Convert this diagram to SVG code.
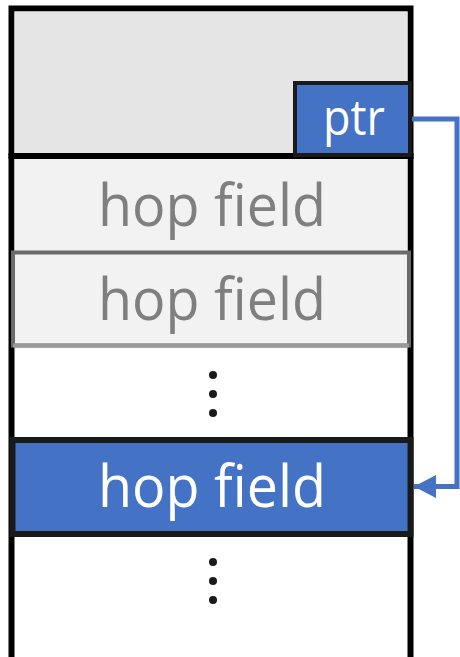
<svg xmlns="http://www.w3.org/2000/svg" width="460" height="657" viewBox="0 0 460 657">
  <defs>
    <style>
      .lbl { font-family: "Open Sans", "Noto Sans", "Liberation Sans", sans-serif; text-anchor: middle; }
      .hop { font-size: 59px; }
      .grey { fill: #7f7f7f; }
      .white { fill: #ffffff; }
      .dot { fill: #1a1a1a; }
      .link { fill: none; stroke: #4472c4; stroke-width: 5; }
    </style>
    <marker id="head" markerUnits="userSpaceOnUse" markerWidth="24" markerHeight="24" refX="22" refY="12" orient="auto">
      <path d="M0,0.5 L22,12 L0,23.5 Z" fill="#4472c4"/>
    </marker>
  </defs>

  <!-- outer frame of the header stack -->
  <g id="frame">
    <rect x="11.5" y="8.5" width="399" height="700" fill="#ffffff" stroke="#000000" stroke-width="6"/>
  </g>

  <!-- header block with pointer field -->
  <g id="header">
    <rect x="14.5" y="11.5" width="393" height="142" fill="#e5e5e5"/>
    <line x1="8.5" y1="156" x2="413.5" y2="156" stroke="#000000" stroke-width="6"/>
  </g>
  <g id="ptr">
    <rect x="295" y="83" width="115" height="72" fill="#4472c4" stroke="#1a1a1a" stroke-width="4"/>
    <text class="lbl white" x="354" y="135" font-size="50" textLength="62" lengthAdjust="spacingAndGlyphs">ptr</text>
  </g>

  <!-- earlier hop fields -->
  <g id="hop1">
    <rect x="14.5" y="159" width="393" height="92" fill="#f2f2f2"/>
    <text class="lbl hop grey" x="212" y="226" textLength="228" lengthAdjust="spacingAndGlyphs">hop field</text>
  </g>
  <g id="hop2">
    <rect x="13" y="252.5" width="396" height="93" fill="#f2f2f2" stroke="#6b6b6b" stroke-width="4"/>
    <line x1="13" y1="345.5" x2="409" y2="345.5" stroke="#9a9a9a" stroke-width="4"/>
    <text class="lbl hop grey" x="212" y="320" textLength="228" lengthAdjust="spacingAndGlyphs">hop field</text>
  </g>

  <!-- ellipsis between fields -->
  <g id="gap1">
    <circle class="dot" cx="213" cy="375" r="4"/>
    <circle class="dot" cx="213" cy="394" r="4"/>
    <circle class="dot" cx="213" cy="413" r="4"/>
  </g>

  <!-- current hop field -->
  <g id="current">
    <rect x="12.5" y="440" width="398" height="94" fill="#4472c4" stroke="#1a1a1a" stroke-width="6"/>
    <text class="lbl hop white" x="212" y="507" textLength="228" lengthAdjust="spacingAndGlyphs">hop field</text>
  </g>

  <!-- trailing fields -->
  <g id="gap2">
    <circle class="dot" cx="213" cy="562" r="4"/>
    <circle class="dot" cx="213" cy="581" r="4"/>
    <circle class="dot" cx="213" cy="600" r="4"/>
  </g>

  <!-- pointer reference -->
  <g id="connectors">
    <path class="link" d="M412,119 L457,119 L457,486.5 L414,486.5" marker-end="url(#head)"/>
  </g>
</svg>
